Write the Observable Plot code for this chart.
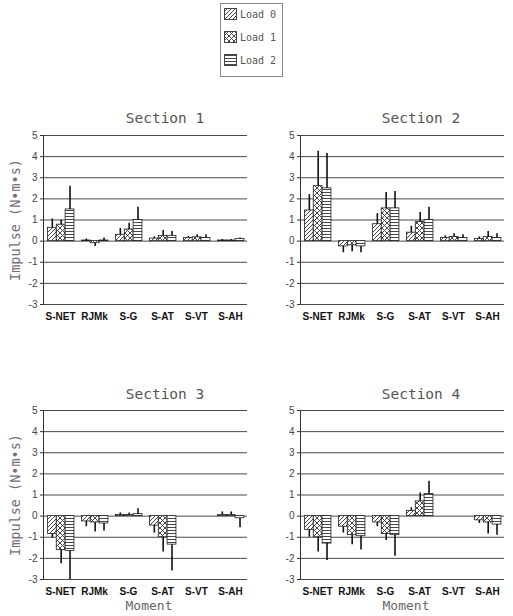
<!DOCTYPE html>
<html>
<head>
<meta charset="utf-8">
<script src="https://cdn.jsdelivr.net/npm/d3@7"></script>
<script src="https://cdn.jsdelivr.net/npm/@observablehq/plot@0.6"></script>
<style>
  body { margin: 0; background: #fff; }
  #wrap { position: relative; width: 513px; height: 616px; overflow: hidden; background: #fff; }
  .title { position: absolute; font-family: "DejaVu Sans Mono", monospace; font-size: 14.5px; color: #555; white-space: nowrap; transform: translate(-50%, -50%); }
  .xlab { position: absolute; font-family: "DejaVu Sans Mono", monospace; font-size: 13px; color: #666; white-space: nowrap; transform: translate(-50%, -50%); }
  .ylab { position: absolute; font-family: "DejaVu Sans Mono", monospace; font-size: 13.5px; color: #776b80; white-space: nowrap; transform: translate(-50%, -50%) rotate(-90deg); }
  .panel { position: absolute; }
  .legend { position: absolute; left: 220px; top: 3px; width: 63px; height: 74px; border: 1px solid #888; box-sizing: border-box; font-family: "DejaVu Sans Mono", monospace; font-size: 10px; color: #555; }
  .legend .row { position: absolute; left: 3px; display: flex; align-items: center; gap: 3px; }
  .legend svg { display: block; }
</style>
</head>
<body>
<svg width="0" height="0" style="position:absolute">
  <defs>
    <pattern id="pat0" patternUnits="userSpaceOnUse" width="4" height="4">
      <rect width="4" height="4" fill="#fff"/>
      <path d="M-1,1 l2,-2 M0,4 l4,-4 M3,5 l2,-2" stroke="#333" stroke-width="0.9"/>
    </pattern>
    <pattern id="pat1" patternUnits="userSpaceOnUse" width="5" height="5">
      <rect width="5" height="5" fill="#fff"/>
      <path d="M0,0 L5,5 M5,0 L0,5" stroke="#333" stroke-width="0.9"/>
    </pattern>
    <pattern id="pat2" patternUnits="userSpaceOnUse" width="3" height="3">
      <rect width="3" height="3" fill="#fff"/>
      <path d="M0,1.5 H3" stroke="#333" stroke-width="0.9"/>
    </pattern>
  </defs>
</svg>
<div id="wrap"></div>
<script>
// ---- data ----
const moments = ["S-NET", "RJMk", "S-G", "S-AT", "S-VT", "S-AH"];
const loads = ["Load 0", "Load 1", "Load 2"];
const sections = ["Section 1", "Section 2", "Section 3", "Section 4"];
const yTicks = [-3, -2, -1, 0, 1, 2, 3, 4, 5];

// mean impulse: one row per load, one column per moment
const sec1Mean = [
  [0.63, 0.03, 0.30, 0.12, 0.15, 0.03],
  [0.78, -0.10, 0.55, 0.25, 0.18, 0.03],
  [1.50, 0.03, 1.00, 0.25, 0.15, 0.10]
];
const sec1Err = [
  [1.05, 0.10, 0.60, 0.20, 0.22, 0.08],
  [1.00, -0.25, 0.85, 0.50, 0.30, 0.08],
  [2.60, 0.15, 1.60, 0.45, 0.30, 0.15]
];
const sec2Mean = [
  [1.45, -0.25, 0.80, 0.40, 0.15, 0.10],
  [2.60, -0.20, 1.55, 0.90, 0.20, 0.20],
  [2.50, -0.25, 1.55, 1.00, 0.15, 0.15]
];
const sec2Err = [
  [2.20, -0.55, 1.30, 0.70, 0.25, 0.20],
  [4.25, -0.50, 2.30, 1.35, 0.35, 0.45],
  [4.15, -0.55, 2.35, 1.60, 0.30, 0.35]
];
const sec3Mean = [
  [-0.85, -0.25, 0.05, -0.45, 0, 0.05],
  [-1.60, -0.30, 0.05, -1.00, 0, 0.05],
  [-1.65, -0.35, 0.10, -1.35, 0, -0.10]
];
const sec3Err = [
  [-1.05, -0.50, 0.15, -0.80, 0, 0.20],
  [-2.25, -0.75, 0.15, -1.70, 0, 0.20],
  [-3.00, -0.70, 0.35, -2.60, 0, -0.55]
];
const sec4Mean = [
  [-0.65, -0.50, -0.30, 0.25, 0, -0.20],
  [-1.00, -0.90, -0.85, 0.70, 0, -0.30],
  [-1.30, -0.95, -0.90, 1.05, 0, -0.40]
];
const sec4Err = [
  [-1.00, -0.80, -0.50, 0.40, 0, -0.35],
  [-1.70, -1.35, -1.15, 1.10, 0, -0.85],
  [-2.10, -1.60, -1.90, 1.65, 0, -0.90]
];
const patterns = ["url(#pat0)", "url(#pat1)", "url(#pat2)"];

// ---- layout ----
const W = 256, ML = 43, MR = 9, MT = 7, MB = 22, PH = 169;
const panels = [
  {mean: sec1Mean, err: sec1Err, left: 0, top: 128, title: [165, 118], ylab: true, xlab: false},
  {mean: sec2Mean, err: sec2Err, left: 257, top: 128, title: [421, 118], ylab: false, xlab: false},
  {mean: sec3Mean, err: sec3Err, left: 0, top: 403, title: [165, 394], ylab: true, xlab: true},
  {mean: sec4Mean, err: sec4Err, left: 257, top: 403, title: [421, 394], ylab: false, xlab: true}
];

const wrap = document.getElementById("wrap");

// legend
const leg = document.createElement("div");
leg.className = "legend";
loads.forEach((ld, i) => {
  const row = document.createElement("div");
  row.className = "row";
  row.style.top = (4 + i * 23) + "px";
  row.innerHTML = `<svg width="13" height="12"><rect x="0.5" y="0.5" width="12" height="11" fill="${patterns[i]}" stroke="#444"/></svg><span>${ld}</span>`;
  leg.appendChild(row);
});
wrap.appendChild(leg);

panels.forEach((p, k) => {
  const rows = [];
  loads.forEach((ld, i) => moments.forEach((m, j) => {
    rows.push({load: ld, li: i, moment: m, value: p.mean[i][j], err: p.err[i][j]});
  }));
  const shown = rows.filter(d => d.value !== 0 || d.err !== 0);
  const BW = (W - ML - MR) / moments.length;
  const off = BW * 0.13, barW = BW * 0.26;

  const chart = Plot.plot({
    width: W,
    height: MT + PH + MB,
    marginLeft: ML, marginRight: MR, marginTop: MT, marginBottom: MB,
    style: {fontFamily: "Liberation Sans, Arial, sans-serif", fontSize: "10px", background: "transparent"},
    x: {domain: moments, padding: 0, axis: null},
    y: {domain: [-3, 5], axis: null},
    marks: [
      Plot.ruleY(yTicks, {stroke: "#4a4a4a", strokeWidth: 1}),
      ...loads.map((ld, i) => Plot.barY(shown.filter(d => d.li === i), {
        x: "moment", y: "value", fill: patterns[i], stroke: "#222", strokeWidth: 0.8,
        insetLeft: off + barW * i, insetRight: BW - off - barW * (i + 1)
      })),
      ...loads.map((ld, i) => Plot.ruleX(shown.filter(d => d.li === i && d.err !== d.value), {
        x: "moment", y1: "value", y2: "err", dx: off + barW * (i + 0.5) - BW / 2,
        stroke: "#111", strokeWidth: 1.6
      })),
      Plot.frame({anchor: "left", stroke: "#333"}),
      Plot.axisY(yTicks, {tickSize: 3, tickPadding: 3, tickFormat: d => String(d), fill: "#444", stroke: "#333", label: null}),
      Plot.axisX({tickSize: 0, tickPadding: 8, fontWeight: "bold", fill: "#111", label: null})
    ]
  });
  chart.classList.add("panel");
  chart.style.left = p.left + "px";
  chart.style.top = p.top + "px";
  wrap.appendChild(chart);

  const t = document.createElement("div");
  t.className = "title";
  t.textContent = sections[k];
  t.style.left = p.title[0] + "px";
  t.style.top = p.title[1] + "px";
  wrap.appendChild(t);

  if (p.ylab) {
    const y = document.createElement("div");
    y.className = "ylab";
    y.textContent = "Impulse (N\u2022m\u2022s)";
    y.style.left = "15px";
    y.style.top = (p.top + MT + PH / 2) + "px";
    wrap.appendChild(y);
  }
  if (p.xlab) {
    const x = document.createElement("div");
    x.className = "xlab";
    x.textContent = "Moment";
    x.style.left = (p.left + ML + (W - ML - MR) / 2 + 4) + "px";
    x.style.top = "605px";
    wrap.appendChild(x);
  }
});
</script>
</body>
</html>
